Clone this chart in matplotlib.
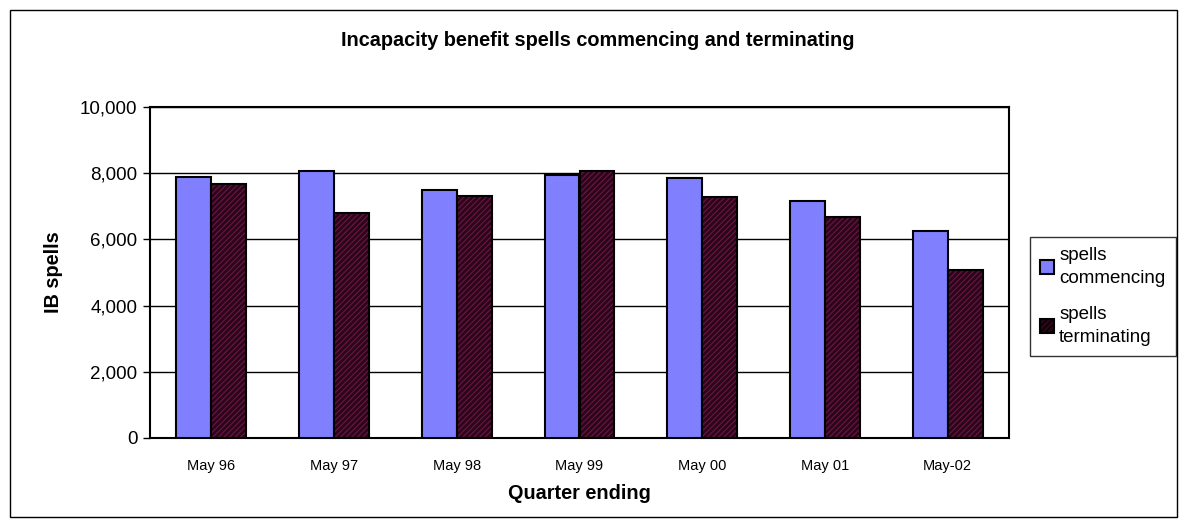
import numpy as np
import matplotlib
matplotlib.use('Agg')
import matplotlib.pyplot as plt
from matplotlib.patches import Rectangle, Patch

plt.rcParams['font.family'] = ['Liberation Sans', 'DejaVu Sans']
plt.rcParams['hatch.linewidth'] = 0.8

# data
quarters = ['May 96', 'May 97', 'May 98', 'May 99', 'May 00', 'May 01', 'May-02']
commencing = [7900, 8060, 7480, 7940, 7850, 7150, 6250]
terminating = [7670, 6800, 7300, 8070, 7270, 6680, 5070]

fig = plt.figure(figsize=(11.87, 5.27), dpi=100)
W, H = 1187, 527

# outer chart frame
fig.patches.append(Rectangle((10 / W, 10 / H), 1167 / W, 507 / H, transform=fig.transFigure,
                             fill=False, edgecolor='black', linewidth=1.0))

ax = fig.add_axes([150 / W, 1 - 438 / H, 859 / W, 331 / H])

x = np.arange(len(quarters))
w = 0.285
face2 = '#2a0618'
hatch2 = '#6e1549'
ax.bar(x - w / 2, commencing, w, color='#8080ff', edgecolor='black', linewidth=1.5, zorder=3)
# hatched fill, then black outline on top
ax.bar(x + w / 2, terminating, w, color=face2, edgecolor=hatch2, hatch='//////',
       linewidth=0, zorder=3)
ax.bar(x + w / 2, terminating, w, fill=False, edgecolor='black', linewidth=1.5, zorder=4)

ax.set_xlim(-0.5, len(quarters) - 0.5)
ax.set_ylim(0, 10000)
ax.set_yticks(np.arange(0, 10001, 2000))
ax.set_yticklabels([f'{v:,}' for v in range(0, 10001, 2000)], fontsize=13.5)
ax.set_xticks(x)
ax.set_xticklabels(quarters, fontsize=10.5)
ax.tick_params(axis='x', length=0, pad=15)
ax.tick_params(axis='y', length=5, width=1, direction='out', pad=4)
ax.grid(axis='y', color='black', linewidth=1, zorder=0)
for s in ax.spines.values():
    s.set_linewidth(1.5)

ax.set_xlabel('Quarter ending', fontsize=14.3, fontweight='bold', labelpad=8)
ax.set_ylabel('IB spells', fontsize=14.3, fontweight='bold', labelpad=12)
fig.text(598 / W, 1 - 40 / H, 'Incapacity benefit spells commencing and terminating',
         ha='center', va='center', fontsize=14.3, fontweight='bold')

handles = [Patch(facecolor='#8080ff', edgecolor='black', linewidth=1.5),
           Patch(facecolor=face2, edgecolor='black', hatch='//////', linewidth=1.5)]
leg = fig.legend(handles, ['spells\ncommencing', 'spells\nterminating'],
                 loc='upper left', bbox_to_anchor=(1030 / W, 1 - 237 / H),
                 fontsize=13.5, frameon=True, fancybox=False, edgecolor='black',
                 handlelength=0.75, handleheight=0.75, handletextpad=0.25,
                 labelspacing=1.0, borderpad=0.55, borderaxespad=0)
for t in leg.get_texts():
    t.set_linespacing(1.45)
leg.get_frame().set_linewidth(1.0)

fig.savefig('out.png', dpi=100)
